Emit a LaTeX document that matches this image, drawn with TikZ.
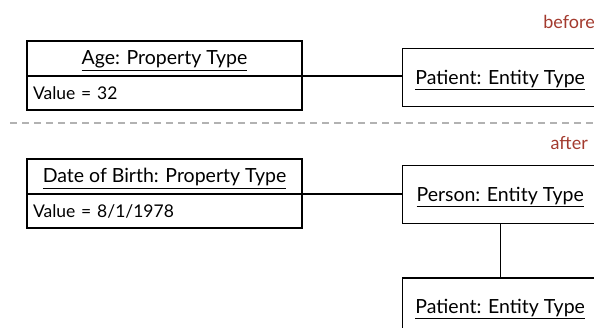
\documentclass[tikz,border=0pt]{standalone}
\usepackage{fontspec}
\setmainfont{Lato}
\usetikzlibrary{positioning}
\definecolor{labelred}{HTML}{A33A2E}
\tikzset{
  titlebox/.style={draw, line width=1.4pt, outer sep=0pt, minimum width=275pt, minimum height=35pt, inner sep=0pt, text height=16pt, text depth=3pt, font=\fontsize{19.5}{22}\selectfont},
  valuebox/.style={draw, line width=1.4pt, outer sep=0pt, text width=263pt, inner xsep=6pt, inner ysep=0pt, minimum height=34pt, align=left, font=\fontsize{17.5}{20}\selectfont},
  entitybox/.style={draw, line width=1.4pt, minimum width=195pt, minimum height=58pt, inner sep=0pt, text height=16pt, text depth=3pt, font=\fontsize{19.5}{22}\selectfont},
  tag/.style={text=labelred, font=\fontsize{18}{20}\selectfont, inner sep=0pt}
}
\begin{document}
\begin{tikzpicture}[x=1pt, y=-1pt]
                    \useasboundingbox (0,0) rectangle (594,328);
                    \clip (0,0) rectangle (594,328);
                    % Before
                    \node[tag, anchor=east] (before) at (595,22) {before};
                    \node[titlebox, anchor=north west] (ageT) at (27,41) {\underline{Age: Property Type}};
                    \node[valuebox, anchor=north west] (ageV) at (ageT.south west) {Value = 32};
                    \node[entitybox, anchor=north west] (patient1) at (402,48) {\underline{Patient: Entity Type}};
                    \draw[line width=1.4pt] (ageT.south east) -- (ageT.south east -| patient1.west);
                    % Divider
                    \coordinate (divL) at (10,123);
                    \coordinate (divR) at (594,123);
                    \draw[gray!60, line width=1.4pt, dash pattern=on 7pt off 5pt] (divL) -- (divR);
                    % After
                    \node[tag, anchor=east] (after) at (588,143) {after};
                    \node[titlebox, anchor=north west] (dobT) at (27,159) {\underline{Date of Birth: Property Type}};
                    \node[valuebox, anchor=north west] (dobV) at (dobT.south west) {Value = 8/1/1978};
                    \node[entitybox, anchor=north west] (person) at (402,165) {\underline{Person: Entity Type}};
                    \node[entitybox, below=53pt of person] (patient2) {\underline{Patient: Entity Type}};
                    \draw[line width=1.4pt] (dobT.south east) -- (dobT.south east -| person.west);
                    \draw[line width=1.4pt] (person.south) -- (patient2.north);
                \end{tikzpicture}
\end{document}
